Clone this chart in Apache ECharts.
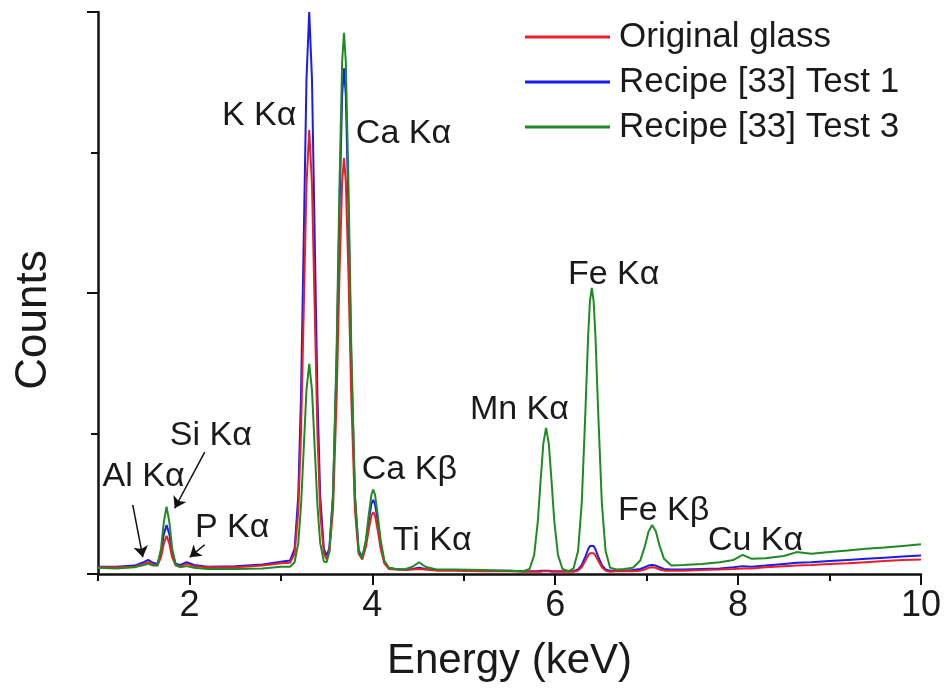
<!DOCTYPE html>
<html>
<head>
<meta charset="utf-8">
<script src="https://cdn.jsdelivr.net/npm/echarts@6/dist/echarts.min.js"></script>
<style>
  html, body { margin: 0; padding: 0; background: #ffffff; }
  #chart { width: 944px; height: 688px; }
</style>
</head>
<body>
<div id="chart"></div>
<script>
// energy axis (keV), sampled densely around the peaks
const energy = [
  1.0, 1.2, 1.4, 1.5, 1.55, 1.6, 1.65, 1.69, 1.72, 1.75, 1.78, 1.81, 1.85, 1.9, 1.97, 2.05, 2.2, 2.5, 2.8, 3.0,
  3.1, 3.15, 3.19, 3.22, 3.25, 3.28, 3.31, 3.34, 3.37, 3.40, 3.43, 3.47, 3.50, 3.53, 3.57, 3.61, 3.64, 3.67, 3.69,
  3.71, 3.74, 3.77, 3.81, 3.85, 3.89, 3.93, 3.96, 3.99, 4.01, 4.03, 4.06, 4.09, 4.13, 4.18, 4.25,
  4.35, 4.44, 4.51, 4.58, 4.7, 4.9, 5.2, 5.5,
  5.65, 5.72, 5.77, 5.81, 5.84, 5.87, 5.90, 5.93, 5.96, 5.99, 6.03, 6.08, 6.15, 6.2, 6.25, 6.29, 6.33, 6.36, 6.38,
  6.40, 6.42, 6.44, 6.47, 6.51, 6.55, 6.6, 6.67, 6.75, 6.85, 6.93, 6.98, 7.02, 7.06, 7.10, 7.14, 7.19, 7.27, 7.4,
  7.6, 7.8, 7.95, 8.05, 8.15, 8.3, 8.5, 8.64, 8.8, 9.0, 9.2, 9.4, 9.6, 9.8, 10.0
]

// Original glass (red)
const originalGlass = [
  1.2, 1.2, 1.3, 1.8, 2.1, 1.7, 1.5, 3.0, 5.4, 6.8, 5.4, 3.0, 1.5, 1.4, 1.8, 1.4, 1.2, 1.2, 1.5, 1.9,
  2.0, 3.6, 11.0, 25.0, 47.0, 69.3, 79, 69.3, 47.0, 25.0, 11.0, 3.7, 2.6, 3.9, 11.5, 31.4, 52.7, 69.9, 74,
  69.9, 52.7, 31.3, 11.3, 3.6, 2.6, 4.8, 7.8, 10.4, 11.0, 10.4, 7.7, 4.6, 1.9, 0.9, 0.8,
  0.7, 0.8, 0.9, 0.8, 0.6, 0.6, 0.5, 0.5,
  0.4, 0.4, 0.4, 0.4, 0.4, 0.5, 0.5, 0.5, 0.4, 0.4, 0.4, 0.4, 0.4, 0.4, 0.6, 1.2, 2.4, 3.3, 3.7,
  3.9, 3.7, 3.3, 2.4, 1.2, 0.6, 0.4, 0.5, 0.5, 0.5, 0.6, 0.8, 1.1, 1.2, 1.1, 0.8, 0.6, 0.6, 0.6,
  0.7, 0.8, 0.9, 1.0, 1.0, 1.2, 1.4, 1.5, 1.6, 1.8, 1.9, 2.1, 2.3, 2.5, 2.6
]

// Recipe [33] Test 1 (blue)
const test1 = [
  1.3, 1.3, 1.5, 2.1, 2.5, 2.0, 1.8, 3.9, 7.1, 8.7, 7.1, 3.9, 1.8, 1.6, 2.1, 1.6, 1.3, 1.4, 1.7, 2.2,
  2.4, 4.5, 13.9, 31.7, 59.7, 88.1, 100, 88.1, 59.7, 31.7, 13.8, 4.5, 3.2, 4.6, 13.9, 38.2, 64.2, 85.2, 90,
  85.2, 64.2, 38.0, 13.7, 4.3, 3.0, 5.8, 9.4, 12.5, 13.2, 12.4, 9.3, 5.6, 2.3, 1.1, 0.9,
  0.8, 0.9, 1.1, 0.9, 0.7, 0.7, 0.6, 0.6,
  0.5, 0.5, 0.5, 0.5, 0.6, 0.6, 0.6, 0.6, 0.5, 0.5, 0.5, 0.5, 0.5, 0.5, 0.8, 1.6, 3.1, 4.4, 5.0,
  5.2, 5.0, 4.4, 3.1, 1.6, 0.8, 0.6, 0.6, 0.6, 0.7, 0.9, 1.2, 1.5, 1.6, 1.5, 1.2, 0.9, 0.8, 0.8,
  0.9, 1.0, 1.2, 1.4, 1.3, 1.5, 1.8, 2.0, 2.1, 2.3, 2.5, 2.7, 2.9, 3.1, 3.3
]

// Recipe [33] Test 3 (green)
const test3 = [
  1.1, 1.0, 1.2, 1.6, 1.8, 1.5, 1.5, 4.6, 9.3, 12.0, 9.3, 4.6, 1.6, 1.2, 1.4, 1.1, 0.9, 0.9, 1.0, 1.3,
  1.3, 2.1, 5.5, 12.1, 22.4, 32.8, 37.4, 32.8, 22.4, 12.1, 5.5, 2.2, 2.1, 4.0, 14.1, 40.3, 68.5, 91.2, 96.3,
  91.2, 68.5, 40.3, 14.0, 4.0, 2.8, 6.1, 10.4, 14.1, 15.0, 14.1, 10.4, 6.1, 2.4, 1.1, 0.9,
  0.8, 1.3, 2.1, 1.3, 0.8, 0.8, 0.7, 0.6,
  0.5, 0.9, 3.4, 9.4, 16.5, 23.2, 26.0, 23.2, 16.5, 9.4, 3.4, 0.9, 0.5, 1.0, 4.1, 12.6, 28.8, 42.3, 48.6,
  50.9, 48.6, 42.3, 28.8, 12.6, 4.2, 1.1, 0.8, 0.9, 1.1, 2.4, 4.9, 7.5, 8.7, 7.6, 5.1, 2.7, 1.5, 1.6,
  1.8, 2.1, 2.5, 3.4, 2.7, 2.8, 3.2, 3.9, 3.6, 3.9, 4.2, 4.5, 4.7, 5.0, 5.3
]

const seriesNames = ['Original glass', 'Recipe [33] Test 1', 'Recipe [33] Test 3']
const xTickLabels = [2, 4, 6, 8, 10]

// peak labels: text, energy, counts, alignment
const peakLabels = [
  ['K K\u03b1', 3.17, 81.5, 'right'],
  ['Ca K\u03b1', 3.82, 78.3, 'left'],
  ['Si K\u03b1', 1.785, 24.7, 'left'],
  ['Al K\u03b1', 1.05, 17.3, 'left'],
  ['P K\u03b1', 2.06, 8.2, 'left'],
  ['Ca K\u03b2', 3.885, 18.5, 'left'],
  ['Ti K\u03b1', 4.224, 5.9, 'left'],
  ['Mn K\u03b1', 5.067, 29.2, 'left'],
  ['Fe K\u03b1', 6.139, 53.2, 'left'],
  ['Fe K\u03b2', 6.686, 11.2, 'left'],
  ['Cu K\u03b1', 7.67, 5.9, 'left']
]

// arrows: from [x, y] to [x, y]
const arrows = [
  [1.38, 12.3, 1.49, 3.0],
  [2.167, 21.7, 1.839, 11.7],
  [2.167, 5.2, 2.003, 3.0]
]

const font = 'Liberation Sans, Arial, Helvetica, sans-serif'
const colors = { red: '#ee1c25', blue: '#1b1bf0', green: '#1f8a24' }

const toPairs = (vals) => energy.map((e, i) => [e, vals[i]])

const chart = echarts.init(document.getElementById('chart'))

const lineSeries = (name, vals, color, extra) => Object.assign({
  name: name,
  type: 'line',
  data: toPairs(vals),
  showSymbol: false,
  symbol: 'none',
  lineStyle: { color: color, width: 2 },
  itemStyle: { color: color },
  animation: false,
  xAxisIndex: 0,
  yAxisIndex: 0
}, extra || {})

const options = {
  backgroundColor: '#ffffff',
  textStyle: { fontFamily: font },
  grid: { left: 98, right: 23, top: 12, bottom: 114 },
  legend: {
    orient: 'vertical',
    left: 520,
    top: 12,
    icon: 'rect',
    itemWidth: 85,
    itemHeight: 3,
    itemGap: 5,
    data: seriesNames,
    textStyle: { fontSize: 35, lineHeight: 40, color: '#1a1a1a', fontFamily: font, padding: [0, 0, 0, 4] }
  },
  xAxis: [
    {
      type: 'value',
      min: 1,
      max: 10,
      name: 'Energy (keV)',
      nameLocation: 'middle',
      nameGap: 66,
      nameTextStyle: { fontSize: 42, color: '#1a1a1a', fontFamily: font },
      axisLine: { show: true, lineStyle: { color: '#111', width: 2.5 } },
      axisTick: { show: true, inside: false, length: 11, customValues: xTickLabels, lineStyle: { color: '#111', width: 2 } },
      axisLabel: { show: true, customValues: xTickLabels, fontSize: 36, color: '#1a1a1a', margin: 14, fontFamily: font },
      splitLine: { show: false }
    },
    {
      // minor ticks every 1 keV
      type: 'value',
      min: 1,
      max: 10,
      interval: 1,
      position: 'bottom',
      axisLine: { show: false },
      axisTick: { show: true, inside: false, length: 7, lineStyle: { color: '#111', width: 2 } },
      axisLabel: { show: false },
      splitLine: { show: false }
    }
  ],
  yAxis: {
    type: 'value',
    min: 0,
    max: 100,
    interval: 50,
    name: 'Counts',
    nameLocation: 'middle',
    nameGap: 42,
    nameTextStyle: { fontSize: 44, color: '#1a1a1a', fontFamily: font, padding: [0, 54, 0, 0] },
    axisLine: { show: true, lineStyle: { color: '#111', width: 2.5 } },
    axisTick: { show: true, inside: false, length: 11, lineStyle: { color: '#111', width: 2 } },
    minorTick: { show: true, splitNumber: 2, length: 7, lineStyle: { color: '#111', width: 2 } },
    axisLabel: { show: false },
    splitLine: { show: false }
  },
  series: [
    lineSeries(seriesNames[1], test1, colors.blue, { z: 2 }),
    lineSeries(seriesNames[0], originalGlass, colors.red, { z: 3 }),
    lineSeries(seriesNames[2], test3, colors.green, {
      z: 4,
      markLine: {
        silent: true,
        animation: false,
        symbol: ['none', 'arrow'],
        symbolSize: 11,
        label: { show: false },
        lineStyle: { color: '#111', width: 1.5, type: 'solid' },
        emphasis: { disabled: true },
        data: arrows.map(a => [{ coord: [a[0], a[1]] }, { coord: [a[2], a[3]] }])
      }
    })
  ]
}

chart.setOption(options)

// place the peak labels at their data positions
const graphics = peakLabels.map(p => {
  const pt = chart.convertToPixel({ seriesIndex: 0 }, [p[1], p[2]])
  return {
    type: 'text',
    x: pt[0],
    y: pt[1],
    silent: true,
    style: {
      text: p[0],
      fill: '#1a1a1a',
      font: '34px ' + font,
      textAlign: p[3],
      textVerticalAlign: 'middle'
    }
  }
})
chart.setOption({ graphic: graphics })
</script>
</body>
</html>
